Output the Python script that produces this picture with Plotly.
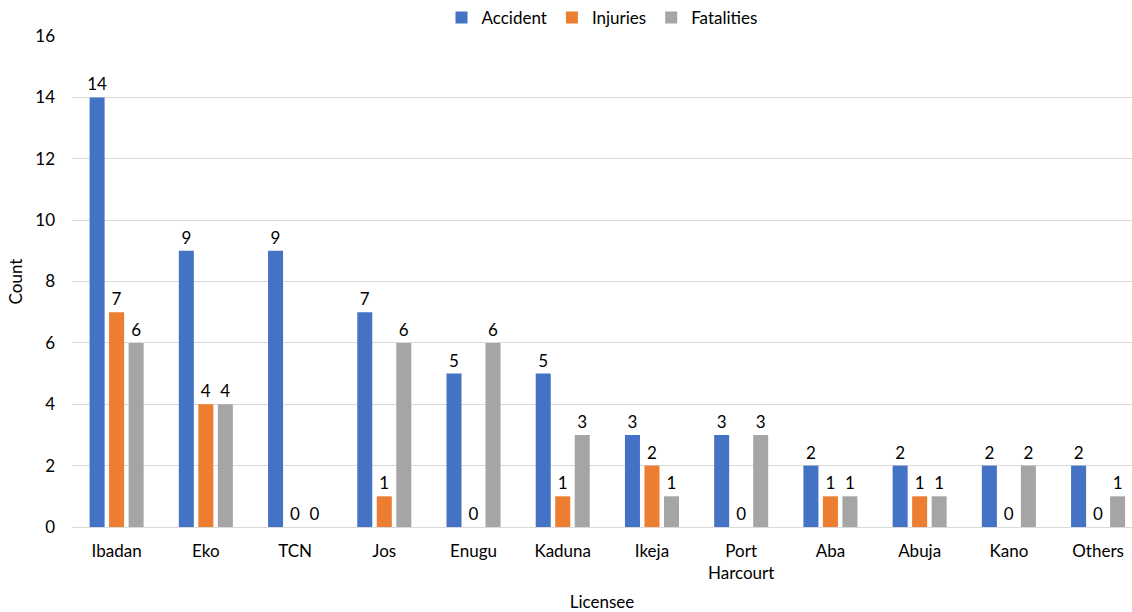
import plotly.graph_objects as go

categories = ["Ibadan", "Eko", "TCN", "Jos", "Enugu", "Kaduna", "Ikeja",
              "Port<br>Harcourt", "Aba", "Abuja", "Kano", "Others"]
accident = [14, 9, 9, 7, 5, 5, 3, 3, 2, 2, 2, 2]
injuries = [7, 4, 0, 1, 0, 1, 2, 0, 1, 1, 0, 0]
fatalities = [6, 4, 0, 6, 6, 3, 1, 3, 1, 1, 2, 1]

series = [("Accident", accident, "#4472C4"),
          ("Injuries", injuries, "#ED7D31"),
          ("Fatalities", fatalities, "#A5A5A5")]

FONT = "Lato"
FS = 17
fig = go.Figure()
for name, vals, color in series:
    fig.add_trace(go.Bar(
        name=name, x=categories, y=vals, marker_color=color,
        marker_line_width=0,
        text=vals, textposition="outside", cliponaxis=False,
        constraintext="none",
        textfont=dict(size=FS, color="#000000", family=FONT),
    ))

fig.update_layout(
    width=1132, height=612,
    margin=dict(l=72, r=0, t=36, b=85),
    paper_bgcolor="white", plot_bgcolor="white",
    barmode="group", bargap=0.344, bargroupgap=0.23,
    font=dict(family=FONT, size=FS, color="#000000"),
    legend=dict(orientation="h", x=0.5, xanchor="center", y=1.0, yanchor="bottom",
                font=dict(size=FS), itemwidth=30, traceorder="normal"),
    showlegend=True,
)
fig.update_xaxes(
    range=[-0.5, 11.38], showgrid=False, showline=False, ticks="",
    ticklabelstandoff=12,
    tickfont=dict(size=FS), title=dict(text="Licensee", font=dict(size=FS), standoff=14),
)
fig.update_yaxes(
    range=[0, 16], dtick=2, showgrid=True, gridcolor="#D9D9D9", gridwidth=1,
    zeroline=True, zerolinecolor="#D9D9D9", zerolinewidth=1,
    showline=False, ticks="", ticklabelstandoff=16,
    tickfont=dict(size=FS), title=dict(text="Count", font=dict(size=FS), standoff=8),
)
fig.write_html("out.html")
